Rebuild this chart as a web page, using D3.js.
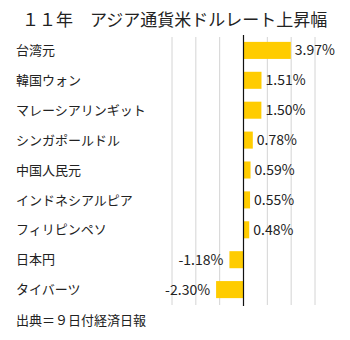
<!DOCTYPE html>
<html>
<head>
<meta charset="utf-8">
<script src="https://cdn.jsdelivr.net/npm/d3@7"></script>
<style>
  html, body { margin: 0; padding: 0; background: #fff; }
  svg { display: block; font-family: "Noto Sans CJK JP", "Noto Sans", sans-serif; }
</style>
</head>
<body>
<script>
// 2011 rise of Asian currencies against the US dollar (%)
const currencies = ["台湾元", "韓国ウォン", "マレーシアリンギット", "シンガポールドル", "中国人民元",
                    "インドネシアルピア", "フィリピンペソ", "日本円", "タイバーツ"];
const changes = [3.97, 1.51, 1.50, 0.78, 0.59, 0.55, 0.48, -1.18, -2.30];
const gridTicks = [-6, -4, -2, 0, 2, 4, 6];
const titleText = "１１年　アジア通貨米ドルレート上昇幅";
const sourceText = "出典＝９日付経済日報";

const W = 350, H = 340;
const svg = d3.select("body").append("svg").attr("width", W).attr("height", H);

const x = d3.scaleLinear().domain([-6, 6]).range([172, 315]);
const y = d3.scaleBand().domain(currencies).range([35, 305])
  .paddingInner(0.43).paddingOuter(0.23);

// percent label with a plain hyphen for negatives
const fmt = d => (d < 0 ? "-" : "") + Math.abs(d).toFixed(2) + "%";

// title
svg.append("text").attr("x", 22).attr("y", 26)
  .attr("font-size", 17).attr("fill", "#222")
  .text(titleText);

// vertical grid
svg.append("g").selectAll("line").data(gridTicks.filter(d => d !== 0)).join("line")
  .attr("x1", d => x(d)).attr("x2", d => x(d))
  .attr("y1", 37).attr("y2", 305)
  .attr("stroke", "#d4d4d4").attr("stroke-width", 1);

// bars
svg.append("g").selectAll("rect").data(changes).join("rect")
  .attr("x", d => Math.min(x(0), x(d)))
  .attr("width", d => Math.abs(x(d) - x(0)))
  .attr("y", (d, i) => y(currencies[i]))
  .attr("height", y.bandwidth())
  .attr("fill", "#ffcc00");

// zero line
svg.append("line")
  .attr("x1", x(0)).attr("x2", x(0))
  .attr("y1", 35).attr("y2", 306)
  .attr("stroke", "#111").attr("stroke-width", 1.2);

// category labels
svg.append("g").selectAll("text").data(currencies).join("text")
  .attr("x", 16)
  .attr("y", d => y(d) + y.bandwidth() / 2)
  .attr("dy", "0.36em")
  .attr("font-size", 13).attr("fill", "#222")
  .text(d => d);

// value labels
svg.append("g").selectAll("text").data(changes).join("text")
  .attr("x", d => d >= 0 ? x(d) + 4 : x(d) - 6)
  .attr("y", (d, i) => y(currencies[i]) + y.bandwidth() / 2)
  .attr("dy", "0.36em")
  .attr("text-anchor", d => d >= 0 ? "start" : "end")
  .attr("font-size", 14).attr("fill", "#222")
  .text(fmt);

// source note
svg.append("text").attr("x", 16).attr("y", 325)
  .attr("font-size", 13).attr("fill", "#222")
  .text(sourceText);
</script>
</body>
</html>
